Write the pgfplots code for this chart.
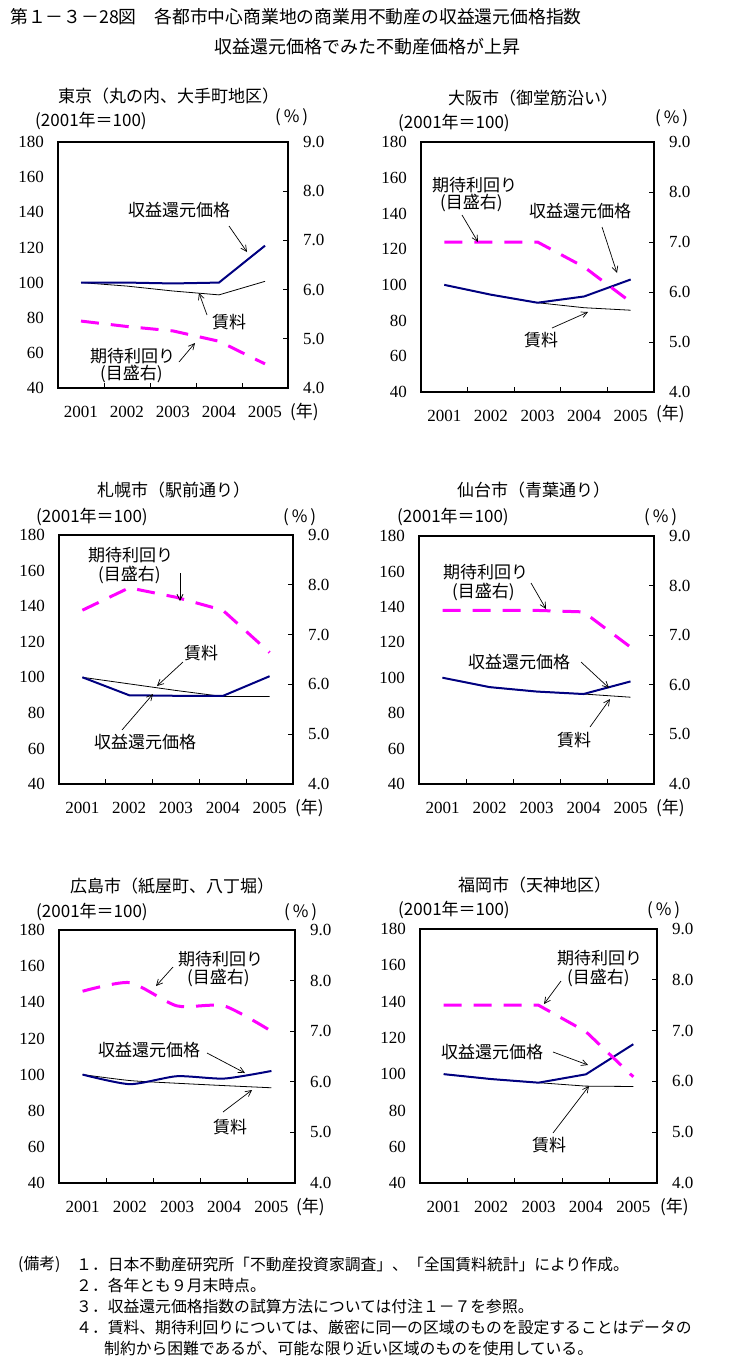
\documentclass[border=0pt]{standalone}
\usepackage{fontspec}
\setmainfont{Liberation Serif}
\newfontfamily\jp{Noto Sans CJK JP}
\usepackage{pgfplots}
\pgfplotsset{compat=1.18}
\usetikzlibrary{arrows.meta}
\definecolor{navy}{RGB}{0,0,128}
\definecolor{mag}{RGB}{255,0,255}
\newcommand\jpf{\jp\fontsize{17}{19}\selectfont}
\newcommand\numf{\fontsize{17}{18}\selectfont}
\newcommand\yl{{\numf(2001}{\jpf 年＝}{\numf 100)}}
\newcommand\pc{{\numf(\,\%\,)}}
\newcommand\nen{{\numf(}{\jpf 年}{\numf)}}
\pgfplotsset{
  leftax/.style={scale only axis, xmin=-0.5, xmax=4.5, ymin=40, ymax=180,
    ytick={40,60,...,180}, yticklabels={40,60,80,100,120,140,160,180},
    xtick={0,1,2,3,4}, xticklabels={2001,2002,2003,2004,2005},
    minor xtick={0.5,1.5,2.5,3.5}, xtick pos=left, ytick pos=left,
    major tick length=0pt, minor tick length=5pt, tick align=inside,
    axis line style={line width=2.5pt}, tick style={black, line width=0.8pt},
    tick label style={font=\numf, inner sep=0pt},
    yticklabel style={anchor=east}, yticklabel shift=14pt,
    xticklabel style={anchor=north}, xticklabel shift=17.5pt},
  rightax/.style={scale only axis, xmin=-0.5, xmax=4.5, ymin=4, ymax=9,
    ytick={4,5,6,7,8,9}, yticklabels={4.0,5.0,6.0,7.0,8.0,9.0},
    axis y line*=right, hide x axis, major tick length=5pt, tick align=inside,
    axis line style={line width=2.5pt}, tick style={black, line width=0.8pt},
    tick label style={font=\numf, inner sep=0pt},
    yticklabel style={anchor=west}, yticklabel shift=15pt},
  shu/.style={navy, line width=2pt},
  chin/.style={black, line width=0.8pt},
  yld/.style={mag, line width=3pt, dash pattern=on 18pt off 12pt},
}
\newcommand\panel[8]{%
 \begin{axis}[leftax, at={(#1pt,-#2pt)}, anchor=north west, width=#3pt, height=#4pt]
   \addplot[chin,#8] coordinates {#6};
   \addplot[shu,#8] coordinates {#5};
 \end{axis}
 \begin{axis}[rightax, at={(#1pt,-#2pt)}, anchor=north west, width=#3pt, height=#4pt]
   \addplot[yld,#8] coordinates {#7};
 \end{axis}}
\tikzset{ann/.style={anchor=west, inner sep=0pt, font=\jpf},
  arr/.style={-{Straight Barb[length=6pt,width=6pt]}, line width=0.7pt}}
\begin{document}
\begin{tikzpicture}
\useasboundingbox (0pt,0pt) rectangle (734pt,-1366pt);
% title
\node[anchor=west, inner sep=0pt, font=\jp\fontsize{17.8}{20}\selectfont] at (10pt,-17pt) {第１－３－28図　各都市中心商業地の商業用不動産の収益還元価格指数};
\node[anchor=west, inner sep=0pt, font=\jp\fontsize{18}{20}\selectfont] at (214pt,-47pt) {収益還元価格でみた不動産価格が上昇};
% Tokyo
\panel{58}{142}{230}{246}{(0,100)(1,100)(2,99.5)(3,100)(4,121)}{(0,100)(1,98)(2,95.2)(3,93)(4,100.7)}{(0,5.36)(1,5.25)(2,5.16)(3,4.95)(4,4.49)}{}
\node[ann] at (58pt,-96pt) {東京（丸の内、大手町地区）};
\node[ann] at (35pt,-121pt) {\yl};
\node[ann] at (275pt,-117pt) {\pc};
\node[ann] at (128pt,-210pt) {収益還元価格};
\draw[arr] (229pt,-226pt) -- (247pt,-252pt);
\node[ann] at (212pt,-322pt) {賃料};
\draw[arr] (207pt,-315pt) -- (199pt,-293pt);
\node[ann] at (90pt,-356pt) {期待利回り};
\node[ann] at (100pt,-374pt) {(目盛右)};
\draw[arr] (179pt,-362pt) -- (195pt,-343pt);
\node[ann] at (290pt,-412pt) {\nen};
% Osaka
\panel{421}{142}{233}{250}{(0,100)(1,94.5)(2,90)(3,93.5)(4,103)}{(0,100)(1,94.5)(2,90)(3,87.2)(4,85.8)}{(0,7.0)(1,7.0)(2,7.0)(3,6.5)(4,5.8)}{}
\node[ann] at (448pt,-98pt) {大阪市（御堂筋沿い）};
\node[ann] at (398pt,-123pt) {\yl};
\node[ann] at (655pt,-118pt) {\pc};
\node[ann] at (432pt,-185pt) {期待利回り};
\node[ann] at (440pt,-203pt) {(目盛右)};
\draw[arr] (462pt,-215pt) -- (478pt,-242pt);
\node[ann] at (529pt,-211pt) {収益還元価格};
\draw[arr] (602pt,-227pt) -- (617pt,-273pt);
\node[ann] at (524pt,-340pt) {賃料};
\draw[arr] (552pt,-328pt) -- (588pt,-312pt);
\node[ann] at (656pt,-414pt) {\nen};
% Sapporo
\panel{59}{535}{234}{249}{(0,100)(1,89.9)(2,89.6)(3,89.5)(4,100.6)}{(0,100)(1,96.3)(2,92.6)(3,89.2)(4,89.2)}{(0,7.49)(1,7.94)(2,7.75)(3,7.49)(4,6.64)}{}
\node[ann] at (97pt,-490pt) {札幌市（駅前通り）};
\node[ann] at (36pt,-517pt) {\yl};
\node[ann] at (283pt,-517pt) {\pc};
\node[ann] at (88pt,-555pt) {期待利回り};
\node[ann] at (98pt,-575pt) {(目盛右)};
\draw[arr] (180pt,-573pt) -- (180pt,-601pt);
\node[ann] at (184pt,-653pt) {賃料};
\draw[arr] (183pt,-662pt) -- (157pt,-686pt);
\node[ann] at (94pt,-742pt) {収益還元価格};
\draw[arr] (122pt,-730pt) -- (153pt,-694pt);
\node[ann] at (295pt,-808pt) {\nen};
% Sendai
\panel{419}{536}{235}{248}{(0,100)(1,94.7)(2,92.2)(3,90.8)(4,97.9)}{(0,100)(1,94.7)(2,92.2)(3,90.8)(4,89)}{(0,7.5)(1,7.5)(2,7.5)(3,7.47)(4,6.76)}{}
\node[ann] at (457pt,-490pt) {仙台市（青葉通り）};
\node[ann] at (397pt,-517pt) {\yl};
\node[ann] at (644pt,-517pt) {\pc};
\node[ann] at (443pt,-572pt) {期待利回り};
\node[ann] at (452pt,-592pt) {(目盛右)};
\draw[arr] (531pt,-583pt) -- (546pt,-609pt);
\node[ann] at (468pt,-662pt) {収益還元価格};
\draw[arr] (581pt,-662pt) -- (609pt,-688pt);
\node[ann] at (557pt,-740pt) {賃料};
\draw[arr] (590pt,-727pt) -- (610pt,-699pt);
\node[ann] at (656pt,-808pt) {\nen};
% Hiroshima
\panel{59}{930}{236}{253}{(0,100)(1,94.7)(2,99.1)(3,97.8)(4,102)}{(0,100)(1,96.7)(2,95.2)(3,93.9)(4,92.7)}{(0,7.79)(1,7.96)(2,7.5)(3,7.5)(4,7.0)}{smooth, tension=0.4}
\node[ann] at (70pt,-886pt) {広島市（紙屋町、八丁堀）};
\node[ann] at (36pt,-912pt) {\yl};
\node[ann] at (284pt,-912pt) {\pc};
\node[ann] at (178pt,-959pt) {期待利回り};
\node[ann] at (187pt,-978pt) {(目盛右)};
\draw[arr] (173pt,-967pt) -- (156pt,-986pt);
\node[ann] at (98pt,-1050pt) {収益還元価格};
\draw[arr] (207pt,-1053pt) -- (245pt,-1073pt);
\node[ann] at (213pt,-1127pt) {賃料};
\draw[arr] (223pt,-1112pt) -- (252pt,-1090pt);
\node[ann] at (296pt,-1207pt) {\nen};
% Fukuoka
\panel{420}{929}{237}{254}{(0,100)(1,97.3)(2,95.3)(3,99.9)(4,116.5)}{(0,100)(1,97.3)(2,95.3)(3,93.4)(4,93.2)}{(0,7.5)(1,7.5)(2,7.5)(3,6.98)(4,6.09)}{}
\node[ann] at (458pt,-885pt) {福岡市（天神地区）};
\node[ann] at (398pt,-910pt) {\yl};
\node[ann] at (647pt,-910pt) {\pc};
\node[ann] at (557pt,-958pt) {期待利回り};
\node[ann] at (567pt,-978pt) {(目盛右)};
\draw[arr] (561pt,-981pt) -- (544pt,-1004pt);
\node[ann] at (441pt,-1052pt) {収益還元価格};
\draw[arr] (553pt,-1052pt) -- (588pt,-1065pt);
\node[ann] at (532pt,-1145pt) {賃料};
\draw[arr] (553pt,-1133pt) -- (589pt,-1086pt);
\node[ann] at (660pt,-1207pt) {\nen};
% notes
\begin{scope}[every node/.style={anchor=west, inner sep=0pt, font=\jp\fontsize{15.8}{17}\selectfont}]
\node at (18pt,-1264pt) {(備考)};
\node at (76pt,-1264pt) {１．日本不動産研究所「不動産投資家調査」、「全国賃料統計」により作成。};
\node at (76pt,-1285pt) {２．各年とも９月末時点。};
\node at (76pt,-1306pt) {３．収益還元価格指数の試算方法については付注１－７を参照。};
\node at (76pt,-1327pt) {４．賃料、期待利回りについては、厳密に同一の区域のものを設定することはデータの};
\node at (104pt,-1348pt) {制約から困難であるが、可能な限り近い区域のものを使用している。};
\end{scope}
\end{tikzpicture}
\end{document}
